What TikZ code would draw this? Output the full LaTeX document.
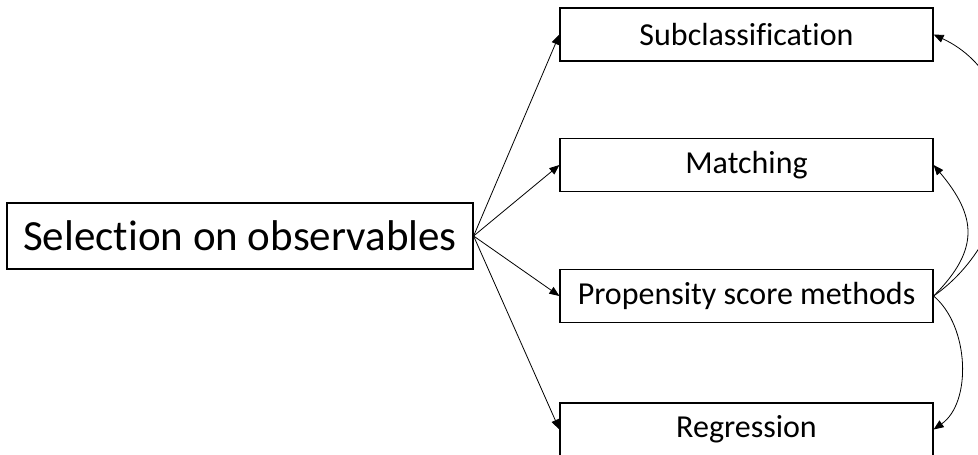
\documentclass[tikz,border=0pt]{standalone}
\usepackage{fontspec}
\setmainfont{Carlito}[Ligatures=NoCommon]
\usetikzlibrary{arrows.meta}

\begin{document}
\begin{tikzpicture}[x=1pt,y=1pt,
    box/.style={draw, line width=1.2pt, minimum width=373pt, minimum height=53pt, inner sep=0pt, font=\fontsize{32}{38}\selectfont},
    link/.style={-{Triangle[length=10pt,width=8pt]}, line width=0.8pt}]
  \useasboundingbox (0,0) rectangle (978,455);
  % source
  \node[box, minimum width=466pt, minimum height=66pt, font=\fontsize{43}{50}\selectfont] (sel) at (240,219) {Selection on observables};
  % methods
  \node[box] (sub) at (746.5,420.5) {Subclassification};
  \node[box] (mat) at (746.5,290) {Matching};
  \node[box] (pro) at (746.5,159) {Propensity score methods};
  \node[box] (reg) at (746.5,25.5) {Regression};
  \foreach \t in {sub,mat,pro,reg}
    \draw[link] (sel.east) -- (\t.west);
  % links among methods
  \draw[link] (pro.east) to[out=35, in=-25, looseness=1.1] (sub.east);
  \draw[link] (pro.east) to[out=45, in=-50, looseness=1.3] (mat.east);
  \draw[link] (pro.east) to[out=-40, in=35, looseness=0.9] (reg.east);
\end{tikzpicture}
\end{document}
